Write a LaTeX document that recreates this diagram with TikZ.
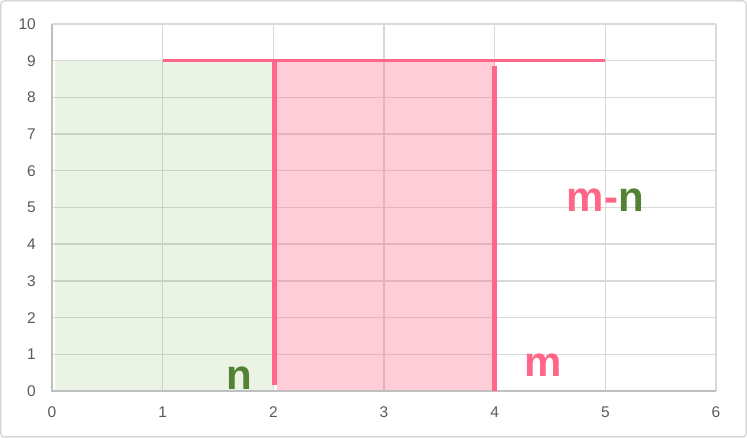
\documentclass[tikz,border=0pt]{standalone}
\usepackage{fontspec}
\setmainfont{Liberation Sans}
\definecolor{pinkline}{RGB}{255,102,136}
\definecolor{greentxt}{RGB}{84,130,53}
\definecolor{greenacc}{RGB}{112,173,71}
\definecolor{gridc}{RGB}{217,217,217}
\definecolor{axisc}{RGB}{191,191,191}
\definecolor{ticktxt}{RGB}{89,89,89}
\tikzset{
  gridline/.style={draw=gridc, line width=1.4pt},
  axisline/.style={draw=axisc, line width=1.4pt},
  ticklab/.style={text=ticktxt, font=\fontsize{15.5}{16}\selectfont, inner sep=0pt},
  greenfill/.style={fill=greenacc, fill opacity=0.14, draw=none},
  pinkfill/.style={fill=pinkline, fill opacity=0.33, draw=none},
  thickbar/.style={draw=pinkline, line width=5pt},
  topbar/.style={draw=pinkline, line width=3.2pt},
  biglab/.style={font=\fontsize{42}{42}\selectfont\bfseries, inner sep=0pt, anchor=base},
}
\begin{document}
\begin{tikzpicture}[x=110.67pt,y=36.7pt]
\useasboundingbox (-52pt,-47pt) rectangle (695pt,391pt);
\draw[gridc, line width=1.5pt, rounded corners=3pt] (-51pt,-46pt) rectangle (694pt,390pt);
% grid
\foreach \i in {1,...,6} \draw[gridline] (\i,0) -- (\i,10);
\foreach \j in {1,...,10} \draw[gridline] (0,\j) -- (6,\j);
% fills
\fill[greenfill] (0.027,0) rectangle (2,9);
\fill[pinkfill] (2.03,0) rectangle (4,9.05);
% axes
\draw[axisline] (0,10) -- (0,0) -- (6,0);
% tick labels
\foreach \j in {0,...,10} \node[ticklab, anchor=east] (yl\j) at ([xshift=-16pt]0,\j) {\j};
\foreach \i in {0,...,6} \node[ticklab] (xl\i) at ([yshift=-21pt]\i,0) {\i};
% lines
\coordinate (h1) at (1,9);
\coordinate (h2) at (5,9);
\coordinate (a1) at (2.01,0.15);
\coordinate (a2) at (2.01,9);
\coordinate (b1) at (4,0);
\coordinate (b2) at (4,8.85);
\draw[topbar] (h1) -- (h2);
\draw[thickbar] (a1) -- (a2);
\draw[thickbar] (b1) -- (b2);
% labels
\node[biglab, text=greentxt] (n) at (1.69,0.03) {n};
\node[biglab, text=pinkline] (m) at (4.44,0.39) {m};
\node[biglab] (mn) at (5.0,4.88) {\textcolor{pinkline}{m-}\textcolor{greentxt}{n}};
\end{tikzpicture}
\end{document}
